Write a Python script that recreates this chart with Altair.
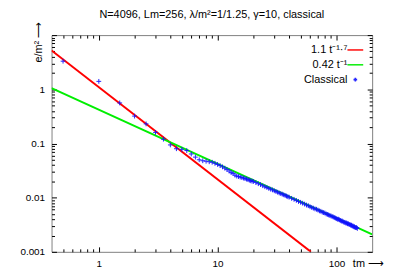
import altair as alt
import pandas as pd

# ---------------- data ----------------
t_vals = [0.5, 1.0, 1.5, 2.0, 2.5, 3.0, 3.5, 4.0, 4.5, 5.0,
          5.5, 6.0, 6.5, 7.0, 7.5, 8.0, 8.5, 9.0, 9.5, 10.0,
          10.5, 11.0, 11.5, 12.0, 12.5, 13.0, 13.5, 14.0, 14.5, 15.0,
          15.5, 16.0, 16.5, 17.0, 17.5, 18.0, 18.5, 19.0, 19.5, 20.0,
          21, 22, 23, 24, 25, 26, 27, 28, 29, 30,
          31, 32, 33, 34, 35, 36, 37, 38, 39, 40,
          42, 44, 46, 48, 50, 52, 54, 56, 58, 60,
          62, 64, 66, 68, 70, 72, 74, 76, 78, 80,
          82, 84, 86, 88, 90, 92, 94, 96, 98, 100,
          102, 104, 106, 108, 110, 112, 114, 116, 118, 120,
          122, 124, 126, 128, 130, 132, 134, 136, 138, 140,
          142, 144, 146, 148, 150]
e_vals = [3.3, 1.4, 0.56, 0.32, 0.23, 0.16, 0.12, 0.094, 0.080, 0.078,
          0.074, 0.064, 0.056, 0.050, 0.048, 0.047, 0.046, 0.045, 0.043, 0.041,
          0.039, 0.037, 0.035, 0.033, 0.031, 0.029, 0.028, 0.026, 0.025, 0.0245,
          0.024, 0.0235, 0.023, 0.0225, 0.022, 0.0215, 0.021, 0.0205, 0.0202, 0.0199,
          0.0190, 0.0181, 0.0174, 0.0166, 0.0159, 0.0154, 0.0148, 0.0143, 0.0139, 0.0134,
          0.0130, 0.0126, 0.0122, 0.0119, 0.0116, 0.0113, 0.0110, 0.0107, 0.0104, 0.0102,
          0.0097, 0.0093, 0.0089, 0.0085, 0.0082, 0.0079, 0.0076, 0.0073, 0.0071, 0.0068,
          0.0066, 0.0064, 0.0062, 0.0061, 0.0059, 0.0057, 0.0056, 0.0054, 0.0053, 0.0052,
          0.0050, 0.0049, 0.0048, 0.0047, 0.0046, 0.0045, 0.0044, 0.0043, 0.0042, 0.0041,
          0.0040, 0.0040, 0.0039, 0.0038, 0.0037, 0.0037, 0.0036, 0.0035, 0.0035, 0.0034,
          0.0034, 0.0033, 0.0033, 0.0032, 0.0032, 0.0031, 0.0031, 0.0030, 0.0030, 0.0029,
          0.0029, 0.0028, 0.0028, 0.0028, 0.0027]

red_t = [0.4, 61.0]
red_e = [5.2, 0.001]
green_t = [0.4, 200.0]
green_e = [1.05, 0.0021]

series_labels = ["1.1 t\u207b\u00b9\u00b7\u2077", "0.42 t\u207b\u00b9", "Classical"]
series_colors = ["#ff0000", "#00ee00", "#1010ff"]

x_major = [1, 10, 100]
x_minor = [0.5, 0.6, 0.7, 0.8, 0.9, 2, 3, 4, 5, 6, 7, 8, 9,
           20, 30, 40, 50, 60, 70, 80, 90]
y_major = [0.001, 0.01, 0.1, 1, 10]
y_minor = [m * d for d in [0.001, 0.01, 0.1, 1] for m in [2, 3, 4, 5, 6, 7, 8, 9]]

title_text = "N=4096, Lm=256, \u03bb/m\u00b2=1/1.25, \u03b3=10, classical"

# ---------------- tables ----------------
pts = pd.DataFrame({"t": t_vals, "e": e_vals, "series": series_labels[2]})
red = pd.DataFrame({"t": red_t, "e": red_e})
green = pd.DataFrame({"t": green_t, "e": green_e})

FONT = "Liberation Sans"
xs = alt.Scale(type="log", domain=[0.4, 200], nice=False)
ys = alt.Scale(type="log", domain=[0.001, 10], nice=False)


def axis(orient, values, size, labels=False, **kw):
    return alt.Axis(orient=orient, values=values, tickSize=size, offset=-size,
                    domain=False, grid=False, ticks=True, tickColor="#000",
                    tickWidth=1, labels=labels, labelFont=FONT, labelFontSize=10,
                    labelColor="#000", labelPadding=7, labelFlush=False,
                    labelOverlap=False, **kw)


lab_expr = "datum.value == 10 ? '' : (datum.value < 1 ? format(datum.value, '~g') : format(datum.value, 'd'))"

red_line = alt.Chart(red).mark_line(color="#ff0000", strokeWidth=2, clip=True).encode(
    x=alt.X("t:Q", scale=xs, axis=axis("bottom", x_major, 5, True,
                                       title="tm \u27f6", titleFont=FONT, titleFontSize=11,
                                       titleFontWeight="normal", titleX=304, titleY=17,
                                       titleAlign="left", titleBaseline="middle",
                                       labelExpr="format(datum.value, 'd')")),
    y=alt.Y("e:Q", scale=ys, axis=axis("left", y_major, 5, True,
                                       title="e/m\u00b2 \u27f6", titleFont=FONT, titleFontSize=11,
                                       titleFontWeight="normal", titleAngle=270,
                                       titleX=-18, titleY=-14, titleAlign="right",
                                       titleBaseline="middle", labelExpr=lab_expr)),
)

green_line = alt.Chart(green).mark_line(color="#00ee00", strokeWidth=2, clip=True).encode(
    x=alt.X("t:Q", scale=xs, axis=axis("bottom", x_minor, 3, title=None)),
    y=alt.Y("e:Q", scale=ys, axis=axis("left", y_minor, 3, title=None)),
)

cross_small = "M-0.3,0H0.3M0,-0.3V0.3"
line_sym = "M-1.3,0H1.3"

points = alt.Chart(pts).mark_point(filled=False, strokeWidth=1, size=260, opacity=0.9, clip=True).encode(
    x=alt.X("t:Q", scale=xs, axis=axis("top", x_major, 5, title=None)),
    y=alt.Y("e:Q", scale=ys, axis=axis("right", y_major, 5, title=None)),
    color=alt.Color("series:N",
                    scale=alt.Scale(domain=series_labels, range=series_colors),
                    legend=alt.Legend(title=None, orient="none", legendX=300, legendY=8,
                                      labelFont=FONT, labelFontSize=11, labelColor="#000",
                                      labelAlign="right", labelOffset={"expr": "-15"},
                                      symbolSize=150, symbolStrokeWidth=1.6,
                                      rowPadding=3)),
    shape=alt.Shape("series:N",
                    scale=alt.Scale(domain=series_labels, range=[line_sym, line_sym, cross_small]),
                    legend=None),
)

points_minor = alt.Chart(pts).mark_point(opacity=0).encode(
    x=alt.X("t:Q", scale=xs, axis=axis("top", x_minor, 3, title=None)),
    y=alt.Y("e:Q", scale=ys, axis=axis("right", y_minor, 3, title=None)),
)

chart = alt.layer(red_line, green_line, points, points_minor).resolve_axis(
    x="independent", y="independent"
).properties(
    width=324, height=219,
    title=alt.TitleParams(title_text, font=FONT, fontSize=11, fontWeight="normal",
                          color="#000", anchor="middle", offset=8, dy=7),
    autosize=alt.AutoSizeParams(type="none"),
    padding={"left": 44, "top": 26, "right": 15, "bottom": 20},
).configure_view(stroke="#808080", strokeWidth=1)

chart.save("out.html", embed_options={"renderer": "svg", "actions": False})
